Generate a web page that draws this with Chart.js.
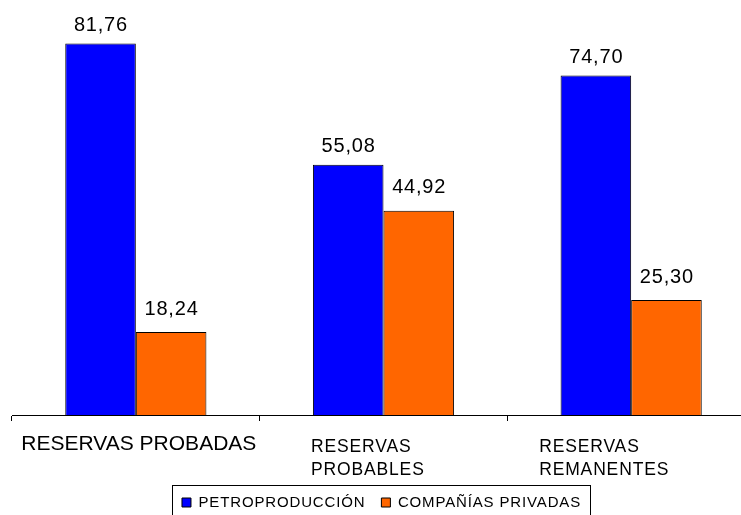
<!DOCTYPE html>
<html>
<head>
<meta charset="utf-8">
<script src="https://cdn.jsdelivr.net/npm/chart.js@4.4.0/dist/chart.umd.min.js"></script>
<style>
html,body{margin:0;padding:0;overflow:hidden;background:#fff;width:741px;height:515px}
canvas{display:block}
</style>
</head>
<body>
<canvas id="c" width="767" height="515" style="width:767px;height:515px"></canvas>
<script>
// ---- data ----
const categories = [['RESERVAS PROBADAS'], ['RESERVAS', 'PROBABLES'], ['RESERVAS', 'REMANENTES']];
const seriesNames = ['PETROPRODUCCIÓN', 'COMPAÑÍAS PRIVADAS'];
const petroproduccion = [81.76, 55.08, 74.70];
const companiasPrivadas = [18.24, 44.92, 25.30];
const yMin = 0;
const yMax = 90;

// ---- styling ----
const FONT = '"Liberation Sans", Arial, Helvetica, sans-serif';
const BLUE = '#0000FF';
const ORANGE = '#FF6600';

function setLS(ctx, v) { if ('letterSpacing' in ctx) ctx.letterSpacing = v; }
function fmt(v) { return v.toFixed(2).replace('.', ','); }

const labelGap = [12.5, 17.5];          // distance from bar top to value baseline, per series
const catOffsets = [3, -72.5, -92];     // horizontal placement of category labels
const legendShift = 2;
const legendLS = '0.85px';

const excelText = {
  id: 'excelText',
  beforeLayout(chart) { setLS(chart.ctx, legendLS); },
  afterLayout(chart) {
    setLS(chart.ctx, '0px');
    const lg = chart.legend;
    if (lg) { lg.left -= legendShift; lg.right -= legendShift; }
  },
  beforeDraw(chart) { setLS(chart.ctx, legendLS); },
  beforeDatasetsDraw(chart) { setLS(chart.ctx, '0px'); },
  afterDraw(chart) {
    const ctx = chart.ctx;
    const xs = chart.scales.x;
    const base = chart.chartArea.bottom;
    ctx.save();
    setLS(ctx, '0px');
    // legend frame
    const lg = chart.legend;
    const hb = lg.legendHitBoxes;
    if (hb && hb.length) {
      const last = hb[hb.length - 1];
      const l = Math.round(hb[0].left - 10) + 0.5;
      const r = Math.round(last.left + last.width + 9) + 0.5;
      const t = Math.round(lg.top + 6) + 0.5;
      ctx.strokeStyle = '#000';
      ctx.lineWidth = 1;
      ctx.strokeRect(l, t, r - l, 80);
    }
    // category labels
    ctx.fillStyle = '#000';
    ctx.textBaseline = 'alphabetic';
    categories.forEach((lines, i) => {
      const px = xs.getPixelForValue(i);
      if (lines.length === 1) {
        setLS(ctx, '0px');
        ctx.font = '21px ' + FONT;
        ctx.textAlign = 'center';
        ctx.fillText(lines[0], px + catOffsets[i], base + 35);
      } else {
        setLS(ctx, '0.85px');
        ctx.font = '17.5px ' + FONT;
        ctx.textAlign = 'left';
        lines.forEach((ln, k) => ctx.fillText(ln, px + catOffsets[i], base + 37 + k * 23));
      }
    });
    // value labels
    setLS(ctx, '0.8px');
    ctx.font = '20px ' + FONT;
    ctx.textAlign = 'center';
    chart.data.datasets.forEach((ds, di) => {
      const meta = chart.getDatasetMeta(di);
      meta.data.forEach((bar, i) => {
        ctx.fillText(fmt(ds.data[i]), bar.x + 0.4, bar.y - labelGap[di]);
      });
    });
    setLS(ctx, '0px');
    ctx.restore();
  }
};

new Chart(document.getElementById('c'), {
  type: 'bar',
  data: {
    labels: categories.map(c => c.join(' ')),
    datasets: [
      { label: seriesNames[0], data: petroproduccion, backgroundColor: BLUE, borderColor: '#000', borderWidth: 1,
        categoryPercentage: 0.57, barPercentage: 1.0 },
      { label: seriesNames[1], data: companiasPrivadas, backgroundColor: ORANGE, borderColor: '#000', borderWidth: 1,
        categoryPercentage: 0.57, barPercentage: 1.0 }
    ]
  },
  options: {
    responsive: false,
    animation: false,
    devicePixelRatio: 1,
    layout: { padding: { left: 12, right: 12, top: 6, bottom: 0 } },
    plugins: {
      legend: {
        position: 'bottom',
        maxHeight: 36,
        labels: { boxWidth: 9, boxHeight: 9, padding: 16, color: '#000', font: { family: FONT, size: 15 } }
      },
      tooltip: { enabled: false }
    },
    scales: {
      x: {
        grid: { display: true, drawOnChartArea: false, drawTicks: true, tickLength: 6, color: '#000', offset: true },
        border: { display: true, color: '#000', width: 1 },
        ticks: { display: false },
        afterFit(s) { s.height = 64; }
      },
      y: { display: false, min: yMin, max: yMax }
    }
  },
  plugins: [excelText]
});
</script>
</body>
</html>
